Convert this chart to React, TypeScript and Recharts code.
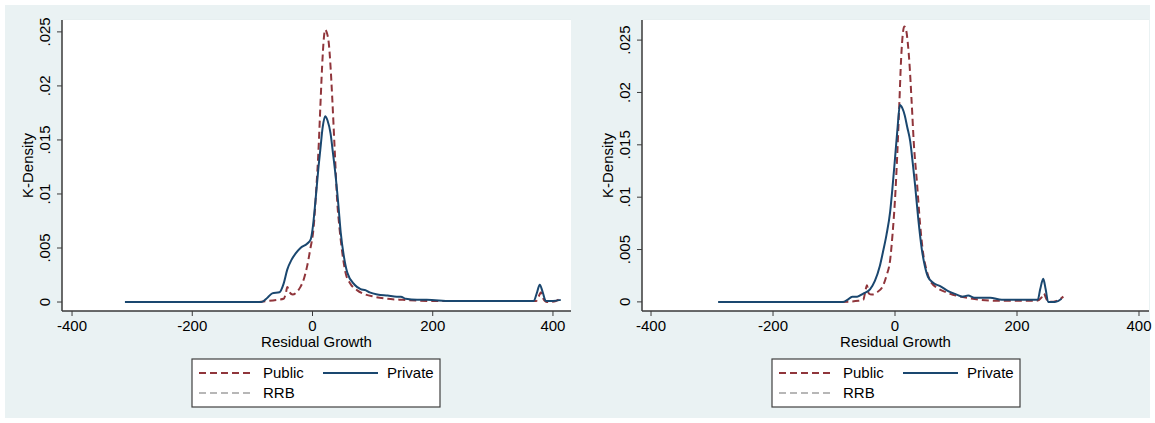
import React from 'react';
import { LineChart, Line, XAxis, YAxis, CartesianGrid } from 'recharts';

// axis ticks and legend text
const xTicks = [-400, -200, 0, 200, 400];
const yTicks = [0, 0.005, 0.01, 0.015, 0.02, 0.025];
const legendLabels = ['Public', 'Private', 'RRB'];

// left panel, Public (kernel density)
const leftPublicX = [-90, -60, -48, -44, -42, -38, -33, -25, -20, -14, -9, -4, 2, 6, 10, 13, 16, 19, 21, 24, 27, 30, 33, 37, 41, 45, 49, 55, 63, 74, 88, 102, 125, 150, 200, 300, 372, 377, 380, 384, 390, 405, 413];
const leftPublicY = [0, 0.0002, 0.0003, 0.0009, 0.0014, 0.0009, 0.0007, 0.001, 0.0014, 0.0022, 0.0033, 0.0048, 0.007, 0.0102, 0.0141, 0.018, 0.0218, 0.0245, 0.0252, 0.0249, 0.024, 0.0218, 0.0187, 0.014, 0.0094, 0.0068, 0.0048, 0.0027, 0.0017, 0.0011, 0.0007, 0.0005, 0.0003, 0.0002, 0.0001, 0.0001, 0.0001, 0.0006, 0.0009, 0.0003, 0, 0.0001, 0.0004];

// left panel, Private
const leftPrivateX = [-312, -200, -85, -75, -67, -55, -48, -42, -35, -28, -20, -9, -3, 0, 5, 10, 13, 17, 21, 25, 30, 34, 38, 43, 47, 52, 58, 70, 80, 88, 95, 108, 125, 140, 147, 155, 174, 190, 230, 300, 340, 368, 373, 378, 383, 388, 400, 413];
const leftPrivateY = [0, 0, 0, 0.0004, 0.0008, 0.0009, 0.0017, 0.003, 0.0039, 0.0045, 0.005, 0.0054, 0.0058, 0.0067, 0.0094, 0.0125, 0.0141, 0.0162, 0.0172, 0.0168, 0.0156, 0.0138, 0.0119, 0.009, 0.0064, 0.0043, 0.0027, 0.0016, 0.0012, 0.0011, 0.0009, 0.0007, 0.0006, 0.0005, 0.0005, 0.0003, 0.0002, 0.0002, 0.0001, 0.0001, 0.0001, 0.0001, 0.0008, 0.0016, 0.0009, 0.0001, 0.0001, 0.0002];

// right panel, Public
const rightPublicX = [-88, -60, -52, -49, -46, -43, -38, -30, -20, -14, -8, -4, 0, 4, 7, 10, 13, 15, 18, 21, 24, 27, 31, 36, 41, 46, 51, 57, 70, 85, 100, 118, 140, 170, 232, 240, 244, 248, 252, 265, 276];
const rightPublicY = [0, 0.0001, 0.0002, 0.0009, 0.0016, 0.0008, 0.0007, 0.0009, 0.0015, 0.0025, 0.004, 0.0065, 0.0098, 0.0145, 0.0188, 0.0232, 0.0257, 0.0263, 0.026, 0.0247, 0.0225, 0.0194, 0.015, 0.0114, 0.0075, 0.0047, 0.0032, 0.0021, 0.0013, 0.0009, 0.0006, 0.0004, 0.0002, 0.0001, 0.0001, 0.0004, 0.0008, 0.0003, 0, 0.0001, 0.0005];

// right panel, Private
const rightPrivateX = [-290, -150, -85, -78, -70, -62, -52, -41, -33, -25, -20, -14, -8, -4, 0, 4, 8, 12, 16, 20, 25, 29, 33, 38, 44, 49, 54, 63, 74, 88, 101, 110, 120, 130, 156, 175, 200, 234, 238, 243, 247, 251, 262, 268, 273];
const rightPrivateY = [0, 0, 0, 0.0002, 0.0005, 0.0005, 0.0008, 0.0012, 0.002, 0.0034, 0.0047, 0.0064, 0.0086, 0.011, 0.0137, 0.0165, 0.0188, 0.0185, 0.0178, 0.0167, 0.0153, 0.0133, 0.0111, 0.008, 0.005, 0.0034, 0.0024, 0.0018, 0.0015, 0.001, 0.0007, 0.0005, 0.0006, 0.0004, 0.0004, 0.0002, 0.0002, 0.0002, 0.0012, 0.0022, 0.0012, 0, 0, 0.0001, 0.0003];

const toPoints = (xs: number[], ys: number[]) => xs.map((x, i) => ({ x, y: ys[i] }));

const FONT = 'Arial, "Liberation Sans", Helvetica, sans-serif';
const BG = '#eaf2f3';
const MAROON = '#90353b';
const NAVY = '#1a476f';
const GRAY = '#a0a0a0';
const AXIS = '#3a3a3a';

const fmtY = (v: number) => (v === 0 ? '0' : String(v).replace(/^0/, ''));

const YTick = (props: any) => {
  const { y, payload } = props;
  const bx = 50;
  return (
    <text x={bx} y={y} transform={`rotate(-90 ${bx} ${y})`} textAnchor="middle" fontSize={15} fill="#000" fontFamily={FONT}>
      {fmtY(payload.value)}
    </text>
  );
};

interface PanelProps {
  left: number;
  width: number;
  xDomain: [number, number];
  yDomain: [number, number];
  publicData: { x: number; y: number }[];
  privateData: { x: number; y: number }[];
}

const Panel: React.FC<PanelProps> = ({ left, width, xDomain, yDomain, publicData, privateData }) => {
  const plotLeft = 62;
  const plotRight = width - (left === 0 ? 7 : 6);
  const center = (plotLeft + plotRight) / 2;
  return (
    <div style={{ position: 'absolute', left, top: 0, width, height: 423 }}>
      <LineChart width={width} height={423} margin={{ top: 20, right: width - plotRight, left: 0, bottom: 0 }}>
        <rect x={plotLeft} y={20} width={plotRight - plotLeft} height={291} fill="#fff" />
        <CartesianGrid vertical={false} stroke="#e3ecee" strokeWidth={1.2} />
        <XAxis
          type="number"
          dataKey="x"
          domain={xDomain}
          ticks={xTicks}
          allowDataOverflow
          height={112}
          tickSize={5}
          tickMargin={4}
          stroke={AXIS}
          axisLine={{ stroke: AXIS, strokeWidth: 1.5 }}
          tickLine={{ stroke: AXIS }}
          tick={{ fill: '#000', fontSize: 15, fontFamily: FONT }}
        />
        <YAxis
          type="number"
          domain={yDomain}
          ticks={yTicks}
          allowDataOverflow
          width={62}
          tickSize={5}
          stroke={AXIS}
          axisLine={{ stroke: AXIS, strokeWidth: 1.5 }}
          tickLine={{ stroke: AXIS }}
          tick={<YTick />}
        />
        <Line data={publicData} dataKey="y" type="monotone" dot={false} isAnimationActive={false} stroke={MAROON} strokeWidth={2} strokeDasharray="7 4" />
        <Line data={privateData} dataKey="y" type="monotone" dot={false} isAnimationActive={false} stroke={NAVY} strokeWidth={2} />
      </LineChart>
      <svg width={width} height={423} style={{ position: 'absolute', left: 0, top: 0, pointerEvents: 'none' }} fontFamily={FONT}>
        <text x={33} y={165.5} transform="rotate(-90 33 165.5)" textAnchor="middle" fontSize={15} fill="#000">K-Density</text>
        <text x={center} y={347} textAnchor="middle" fontSize={15} fill="#000">Residual Growth</text>
        <g transform="translate(192 359)">
          <rect x={0} y={0} width={248} height={48} fill="#fff" stroke="#404040" strokeWidth={1.2} />
          <line x1={7} x2={61} y1={14} y2={14} stroke={MAROON} strokeWidth={2} strokeDasharray="7 4" />
          <text x={71} y={19} fontSize={15} fill="#000">{legendLabels[0]}</text>
          <line x1={131} x2={186} y1={14} y2={14} stroke={NAVY} strokeWidth={2} />
          <text x={195} y={19} fontSize={15} fill="#000">{legendLabels[1]}</text>
          <line x1={7} x2={61} y1={34} y2={34} stroke={GRAY} strokeWidth={1.5} strokeDasharray="7 4" />
          <text x={71} y={39} fontSize={15} fill="#000">{legendLabels[2]}</text>
        </g>
      </svg>
    </div>
  );
};

export default function App() {
  return (
    <div style={{ position: 'absolute', left: 0, top: 0, width: 1155, height: 423, background: '#fff', fontFamily: FONT }}>
      <div style={{ position: 'absolute', left: 5, top: 5, width: 1145, height: 413, background: BG }} />
      <Panel
        left={0}
        width={578}
        xDomain={[-416.7, 430]}
        yDomain={[-0.00083, 0.0261]}
        publicData={toPoints(leftPublicX, leftPublicY)}
        privateData={toPoints(leftPrivateX, leftPrivateY)}
      />
      <Panel
        left={580}
        width={575}
        xDomain={[-414.8, 416.4]}
        yDomain={[-0.00087, 0.02692]}
        publicData={toPoints(rightPublicX, rightPublicY)}
        privateData={toPoints(rightPrivateX, rightPrivateY)}
      />
    </div>
  );
}
